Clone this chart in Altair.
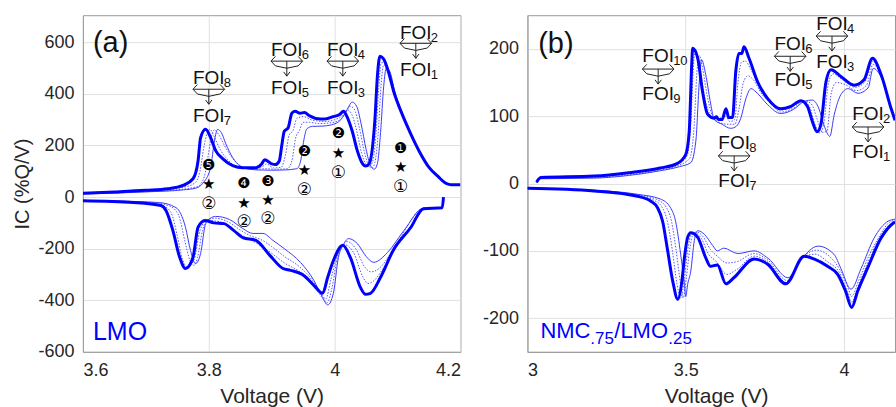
import altair as alt
import pandas as pd

# ---------------- Panel (a): LMO  (voltage, IC) ----------------
a_charge_bold = [(3.600, 15), (3.650, 20), (3.700, 26), (3.735, 32), (3.759, 45), (3.775, 71), (3.783, 141),
                 (3.787, 230), (3.795, 263), (3.803, 230), (3.811, 180), (3.822, 149), (3.838, 122), (3.854, 114),
                 (3.875, 114), (3.884, 128), (3.889, 145), (3.899, 130), (3.906, 126), (3.912, 140), (3.916, 200),
                 (3.920, 255), (3.926, 268), (3.932, 325), (3.937, 333), (3.945, 325), (3.952, 328), (3.960, 315),
                 (3.970, 305), (3.985, 303), (3.998, 312), (4.008, 320), (4.014, 333), (4.020, 310), (4.028, 255),
                 (4.036, 180), (4.043, 135), (4.049, 120), (4.055, 130), (4.060, 190), (4.064, 300), (4.068, 470),
                 (4.072, 546), (4.078, 535), (4.085, 490), (4.095, 400), (4.105, 335), (4.120, 250), (4.135, 175),
                 (4.150, 115), (4.165, 78), (4.178, 52), (4.185, 48), (4.200, 48)]
a_charge_dot1 = [(3.600, 14), (3.700, 23), (3.760, 38), (3.778, 55), (3.786, 100), (3.792, 190), (3.797, 245),
                 (3.802, 262), (3.809, 232), (3.818, 185), (3.830, 145), (3.845, 118), (3.865, 110), (3.885, 118),
                 (3.892, 128), (3.903, 113), (3.915, 115), (3.922, 165), (3.928, 242), (3.934, 258), (3.940, 305),
                 (3.950, 312), (3.965, 298), (3.985, 293), (4.000, 300), (4.012, 315), (4.020, 338), (4.027, 322),
                 (4.035, 258), (4.043, 170), (4.050, 126), (4.055, 118), (4.060, 135), (4.065, 220), (4.070, 420),
                 (4.074, 520), (4.080, 522), (4.088, 470), (4.097, 395), (4.105, 338), (4.120, 251)]
a_charge_dot2 = [(3.600, 13), (3.700, 21), (3.760, 31), (3.783, 42), (3.793, 80), (3.799, 160), (3.804, 232),
                 (3.809, 260), (3.815, 245), (3.825, 200), (3.835, 160), (3.850, 122), (3.870, 107), (3.890, 110),
                 (3.905, 108), (3.925, 110), (3.932, 140), (3.938, 228), (3.944, 258), (3.950, 290), (3.960, 290),
                 (3.975, 285), (3.990, 287), (4.005, 295), (4.016, 320), (4.024, 352), (4.031, 342), (4.039, 272),
                 (4.047, 178), (4.054, 123), (4.059, 112), (4.064, 135), (4.069, 240), (4.074, 440), (4.078, 512),
                 (4.084, 500), (4.092, 440), (4.100, 372), (4.110, 310), (4.120, 251)]
a_charge_thin = [(3.600, 12), (3.700, 20), (3.760, 28), (3.780, 35), (3.790, 52), (3.803, 115), (3.809, 218),
                 (3.814, 262), (3.820, 250), (3.827, 207), (3.838, 153), (3.850, 120), (3.865, 108), (3.880, 105),
                 (3.900, 104), (3.920, 105), (3.940, 110), (3.946, 140), (3.951, 220), (3.956, 265), (3.965, 274),
                 (3.980, 275), (3.995, 280), (4.010, 300), (4.020, 340), (4.028, 368), (4.035, 352), (4.042, 285),
                 (4.050, 185), (4.057, 122), (4.063, 108), (4.068, 130), (4.073, 250), (4.078, 430), (4.082, 500),
                 (4.088, 485), (4.095, 415), (4.105, 342), (4.120, 252)]
a_dis_bold = [(3.600, -14), (3.680, -21), (3.724, -33), (3.732, -52), (3.743, -130), (3.754, -235), (3.763, -277),
              (3.775, -233), (3.783, -117), (3.794, -91), (3.808, -100), (3.824, -103), (3.840, -130), (3.854, -157),
              (3.875, -168), (3.897, -226), (3.918, -277), (3.930, -284), (3.951, -304), (3.967, -342), (3.981, -373),
              (3.989, -311), (3.997, -253), (4.013, -187), (4.025, -234), (4.041, -350), (4.049, -377), (4.057, -373),
              (4.073, -311), (4.093, -207), (4.121, -118), (4.141, -45), (4.171, -41), (4.173, 0)]
a_dis_dot1 = [(3.600, -14), (3.700, -21), (3.728, -35), (3.740, -60), (3.750, -150), (3.758, -240), (3.767, -272),
              (3.777, -240), (3.786, -130), (3.797, -90), (3.808, -92), (3.825, -102), (3.845, -138), (3.862, -160),
              (3.880, -185), (3.900, -218), (3.920, -255), (3.945, -290), (3.965, -335), (3.980, -380), (3.986, -395),
              (3.994, -320), (4.002, -245), (4.016, -185), (4.030, -215), (4.045, -310), (4.053, -335), (4.062, -325),
              (4.080, -265), (4.100, -185), (4.125, -100), (4.145, -45), (4.171, -41)]
a_dis_dot2 = [(3.600, -13), (3.710, -21), (3.738, -35), (3.752, -70), (3.762, -170), (3.770, -245), (3.776, -265),
              (3.782, -235), (3.790, -130), (3.798, -88), (3.810, -82), (3.830, -95), (3.850, -128), (3.866, -150),
              (3.883, -165), (3.900, -192), (3.920, -230), (3.945, -272), (3.965, -325), (3.980, -390), (3.988, -410),
              (3.996, -350), (4.004, -240), (4.019, -172), (4.033, -198), (4.048, -272), (4.058, -290), (4.070, -278),
              (4.090, -215), (4.110, -135), (4.140, -45), (4.171, -41)]
a_dis_thin = [(3.600, -13), (3.720, -21), (3.748, -41), (3.763, -117), (3.771, -207), (3.779, -258), (3.787, -219),
              (3.795, -103), (3.802, -83), (3.811, -75), (3.833, -87), (3.854, -122), (3.870, -141), (3.886, -141),
              (3.902, -168), (3.920, -200), (3.946, -254), (3.967, -323), (3.980, -385), (3.989, -418), (3.998, -373),
              (4.006, -234), (4.014, -185), (4.022, -161), (4.036, -180), (4.050, -230), (4.062, -253), (4.084, -215),
              (4.110, -130), (4.141, -43), (4.171, -41)]

# ---------------- Panel (b): NMC.75/LMO.25 ----------------
b_charge_bold = [(3.029, 2), (3.042, 9), (3.210, 11), (3.320, 16), (3.420, 23), (3.474, 30), (3.500, 43),
                 (3.511, 77), (3.519, 177), (3.522, 201), (3.538, 186), (3.553, 137), (3.569, 103), (3.589, 97),
                 (3.597, 99), (3.604, 95), (3.615, 95), (3.627, 111), (3.636, 98), (3.648, 98), (3.658, 166),
                 (3.668, 193), (3.677, 193), (3.684, 203), (3.700, 186), (3.727, 151), (3.759, 126), (3.800, 111),
                 (3.830, 114), (3.864, 123), (3.885, 114), (3.900, 92), (3.915, 77), (3.927, 88), (3.943, 151),
                 (3.959, 169), (3.990, 159), (4.032, 146), (4.063, 154), (4.090, 186), (4.117, 162), (4.149, 111),
                 (4.161, 94)]
b_charge_dot1 = [(3.030, 2), (3.040, 8), (3.210, 10), (3.320, 15), (3.420, 22), (3.475, 29), (3.505, 42),
                 (3.516, 90), (3.526, 185), (3.531, 196), (3.542, 182), (3.557, 135), (3.575, 104), (3.595, 95),
                 (3.625, 100), (3.640, 92), (3.655, 95), (3.665, 150), (3.676, 180), (3.688, 182), (3.705, 170),
                 (3.730, 146), (3.760, 123), (3.800, 109), (3.840, 115), (3.872, 123), (3.893, 112), (3.908, 88),
                 (3.925, 75), (3.937, 92), (3.951, 150), (3.966, 163), (3.995, 154), (4.035, 143), (4.066, 151),
                 (4.091, 182), (4.117, 161), (4.149, 111), (4.161, 94)]
b_charge_dot2 = [(3.030, 1), (3.040, 8), (3.210, 9), (3.320, 13), (3.420, 20), (3.478, 27), (3.512, 37),
                 (3.525, 75), (3.537, 175), (3.543, 190), (3.553, 172), (3.568, 130), (3.585, 100), (3.605, 91),
                 (3.635, 88), (3.655, 88), (3.668, 110), (3.682, 150), (3.697, 160), (3.712, 155), (3.740, 133),
                 (3.770, 118), (3.800, 106), (3.840, 112), (3.875, 123), (3.897, 118), (3.915, 96), (3.932, 76),
                 (3.946, 78), (3.960, 135), (3.976, 150), (4.003, 147), (4.040, 138), (4.071, 146), (4.092, 177),
                 (4.117, 160), (4.149, 111), (4.161, 94)]
b_charge_thin = [(3.030, 1), (3.040, 7), (3.210, 8), (3.320, 12), (3.420, 19), (3.480, 25), (3.516, 31),
                 (3.532, 63), (3.543, 152), (3.550, 184), (3.563, 162), (3.579, 118), (3.590, 95), (3.615, 88),
                 (3.642, 82), (3.660, 85), (3.674, 97), (3.690, 126), (3.706, 141), (3.722, 136), (3.759, 117),
                 (3.800, 104), (3.840, 110), (3.875, 122), (3.900, 124), (3.920, 112), (3.938, 85), (3.955, 70),
                 (3.969, 102), (3.990, 132), (4.013, 141), (4.044, 134), (4.076, 142), (4.092, 171), (4.117, 158),
                 (4.149, 111), (4.161, 94)]
b_dis_bold = [(3.000, -7), (3.211, -11), (3.348, -19), (3.389, -26), (3.411, -36), (3.427, -56), (3.443, -100),
              (3.459, -145), (3.475, -172), (3.488, -145), (3.496, -110), (3.506, -80), (3.516, -73), (3.538, -80),
              (3.563, -110), (3.578, -123), (3.600, -121), (3.627, -149), (3.652, -140), (3.716, -112), (3.759, -120),
              (3.816, -149), (3.874, -108), (3.905, -112), (3.948, -123), (3.980, -135), (4.005, -160), (4.024, -184),
              (4.043, -160), (4.075, -125), (4.117, -81), (4.155, -59), (4.161, -57)]
b_dis_dot1 = [(3.000, -7), (3.211, -11), (3.348, -18), (3.400, -25), (3.425, -35), (3.442, -56), (3.458, -100),
              (3.472, -148), (3.484, -170), (3.496, -140), (3.506, -100), (3.518, -75), (3.530, -74), (3.550, -82),
              (3.572, -105), (3.595, -115), (3.630, -135), (3.660, -128), (3.716, -108), (3.760, -117), (3.818, -147),
              (3.870, -110), (3.908, -105), (3.950, -117), (3.985, -132), (4.010, -160), (4.024, -176), (4.045, -152),
              (4.075, -118), (4.110, -82), (4.150, -59), (4.161, -56)]
b_dis_dot2 = [(3.000, -7), (3.211, -10), (3.348, -17), (3.410, -24), (3.438, -35), (3.455, -56), (3.470, -100),
              (3.484, -150), (3.492, -170), (3.502, -140), (3.512, -100), (3.524, -74), (3.535, -72), (3.555, -79),
              (3.578, -98), (3.600, -108), (3.630, -118), (3.662, -116), (3.716, -104), (3.760, -114), (3.820, -144),
              (3.866, -112), (3.912, -99), (3.958, -110), (3.988, -129), (4.015, -158), (4.023, -168), (4.048, -142),
              (4.080, -106), (4.110, -80), (4.145, -57), (4.161, -55)]
b_dis_thin = [(3.000, -7), (3.211, -10), (3.348, -16), (3.420, -23), (3.452, -36), (3.468, -56), (3.484, -105),
              (3.496, -150), (3.500, -168), (3.506, -150), (3.516, -130), (3.527, -85), (3.538, -70), (3.560, -76),
              (3.585, -92), (3.600, -100), (3.620, -96), (3.665, -104), (3.716, -100), (3.760, -111), (3.823, -140),
              (3.864, -113), (3.918, -93), (3.968, -105), (3.990, -126), (4.022, -157), (4.054, -126), (4.095, -81),
              (4.139, -56), (4.161, -53)]

# ---------------- axes ----------------
a_x_ticks = [3.6, 3.8, 4, 4.2]
a_y_ticks = [-600, -400, -200, 0, 200, 400, 600]
b_x_ticks = [3, 3.5, 4]
b_y_ticks = [-200, -100, 0, 100, 200]

# ---------------- annotations ----------------
a_foi_v = [3.800, 3.924, 4.013, 4.129]
a_foi_upper_ic = [461, 569, 569, 635]
a_foi_upper_sub = ["8", "6", "4", "2"]
a_foi_arrow_ic = [418, 527, 527, 596]
a_foi_lower_ic = [314, 422, 422, 492]
a_foi_lower_sub = ["7", "5", "3", "1"]

b_foi_v = [3.413, 3.653, 3.830, 3.962, 4.076]
b_foi_upper_ic = [189, 60, 207, 237, 103]
b_foi_upper_sub = ["10", "8", "6", "4", "2"]
b_foi_arrow_ic = [170, 41, 189, 219, 84]
b_foi_lower_ic = [133, 4, 154, 180, 47]
b_foi_lower_sub = ["9", "7", "5", "3", "1"]

a_mark_v = [3.800, 3.856, 3.894, 3.952, 4.006, 4.105]
a_mark_top = ["❺", "❹", "❸", "❷", "❷", "❶"]
a_mark_top_ic = [124, 54, 62, 178, 248, 190]
a_star_ic = [50, -23, -12, 105, 170, 116]
a_mark_bot = ["②", "②", "②", "②", "①", "①"]
a_mark_bot_ic = [-27, -97, -85, 27, 93, 39]

BLUE = "#0000ff"
TXT = "#111111"
FONT = "Liberation Sans"
# double-headed arrow with a downward arrow from its middle (unit-square path)
ARROW_SHAPE = ("M-1,0 L1,0 M-0.72,-0.3 L-1,0 L-0.72,0.3 M0.72,-0.3 L1,0 L0.72,0.3 "
               "M-0.72,0.3 L0,0.45 L0.72,0.3 M0,0 L0,0.95 M-0.2,0.68 L0,0.95 L0.2,0.68")


def curves_df(series):
    rows = []
    for name, style, pts in series:
        for i, (v, ic) in enumerate(pts):
            rows.append({"series": name, "style": style, "idx": i, "v": v, "ic": ic})
    return pd.DataFrame(rows)


def build_panel(series, xdom, ydom, xticks, yticks, width, height, ytitle, xtitle_x,
                letter, letter_pos, foi, extra_layers):
    xsc = alt.Scale(domain=xdom, nice=False, zero=False)
    ysc = alt.Scale(domain=ydom, nice=False, zero=False)
    xax = alt.Axis(values=xticks, labelExpr="'' + datum.value", title="Voltage (V)",
                   titleX=xtitle_x, titleY=51, titleBaseline="alphabetic", labelPadding=10)
    if ytitle:
        yax = alt.Axis(values=yticks, labelExpr="'' + datum.value", title=ytitle, titleX=-60,
                       titleY=height / 2, titleAlign="center", titleBaseline="middle", titleFontSize=20,
                       labelPadding=9)
    else:
        yax = alt.Axis(values=yticks, labelExpr="'' + datum.value", title="", labelPadding=9)
    X = alt.X("v:Q", scale=xsc, axis=xax)
    Y = alt.Y("ic:Q", scale=ysc, axis=yax)

    df = curves_df(series)
    base = alt.Chart(df).encode(x=X, y=Y, detail="series:N", order="idx:Q")
    dots = base.transform_filter(alt.datum.style == "dot").mark_line(
        strokeWidth=1, strokeDash=[1.5, 1.5], color="#5555ff", clip=True, interpolate="monotone")
    thin = base.transform_filter(alt.datum.style == "thin").mark_line(
        strokeWidth=1, color="#3a3aff", clip=True, interpolate="monotone")
    bold = base.transform_filter(alt.datum.style == "bold").mark_line(
        strokeWidth=3, color=BLUE, clip=True, interpolate="monotone")

    layers = [dots, thin, bold]

    lt = pd.DataFrame({"v": [letter_pos[0]], "ic": [letter_pos[1]], "t": [letter]})
    layers.append(alt.Chart(lt).mark_text(font=FONT, fontSize=29, color="#111111", align="center",
                                          baseline="middle").encode(x=X, y=Y, text="t:N"))

    fv, up_ic, up_sub, ar_ic, lo_ic, lo_sub = foi
    main = pd.DataFrame({"v": fv + fv, "ic": up_ic + lo_ic, "t": ["FOI"] * (2 * len(fv))})
    sub = pd.DataFrame({"v": fv + fv, "ic": up_ic + lo_ic, "t": up_sub + lo_sub})
    arr = pd.DataFrame({"v": fv, "ic": ar_ic})
    layers.append(alt.Chart(main).mark_text(font=FONT, fontSize=19, color=TXT, align="center",
                                            baseline="middle").encode(x=X, y=Y, text="t:N"))
    layers.append(alt.Chart(sub).mark_text(font=FONT, fontSize=13, color=TXT, align="left",
                                           baseline="middle", dx=15, dy=5).encode(x=X, y=Y, text="t:N"))
    layers.append(alt.Chart(arr).mark_point(shape=ARROW_SHAPE, size=1000, filled=False, color="#222222",
                                            strokeWidth=1, opacity=1).encode(x=X, y=Y))
    for mk in extra_layers:
        layers.append(mk(X, Y))
    return alt.layer(*layers).properties(width=width, height=height)


# panel a extras
def a_label(X, Y):
    d = pd.DataFrame({"v": [3.616], "ic": [-556], "t": ["LMO"]})
    return alt.Chart(d).mark_text(font=FONT, fontSize=25, color=BLUE, align="left",
                                  baseline="alphabetic").encode(x=X, y=Y, text="t:N")


def a_marks_top(X, Y):
    d = pd.DataFrame({"v": a_mark_v, "ic": a_mark_top_ic, "t": a_mark_top})
    return alt.Chart(d).mark_text(font="DejaVu Sans", fontSize=15, color="#000000", align="center",
                                  baseline="middle").encode(x=X, y=Y, text="t:N")


def a_marks_star(X, Y):
    d = pd.DataFrame({"v": a_mark_v, "ic": a_star_ic, "t": ["★"] * len(a_mark_v)})
    return alt.Chart(d).mark_text(font="DejaVu Sans", fontSize=15, color="#000000", align="center",
                                  baseline="middle").encode(x=X, y=Y, text="t:N")


def a_marks_bot(X, Y):
    d = pd.DataFrame({"v": a_mark_v, "ic": a_mark_bot_ic, "t": a_mark_bot})
    return alt.Chart(d).mark_text(font="DejaVu Sans", fontSize=17, color="#000000", align="center",
                                  baseline="middle").encode(x=X, y=Y, text="t:N")


# panel b label pieces
b_label_v = [3.041, 3.1987, 3.2744, 3.4448]
b_label_ic = [-229, -238, -229, -238]
b_label_t = ["NMC", ".75", "/LMO", ".25"]
b_label_size = [22, 17, 22, 17]


def b_label(X, Y):
    d = pd.DataFrame({"v": b_label_v, "ic": b_label_ic, "t": b_label_t, "s": b_label_size})
    return alt.Chart(d).mark_text(font=FONT, color=BLUE, align="left", baseline="alphabetic").encode(
        x=X, y=Y, text="t:N", size=alt.Size("s:Q", scale=None, legend=None))


panel_a = build_panel(
    [("ac_thin", "thin", a_charge_thin), ("ac_d1", "dot", a_charge_dot1), ("ac_d2", "dot", a_charge_dot2),
     ("ac_bold", "bold", a_charge_bold),
     ("ad_thin", "thin", a_dis_thin), ("ad_d1", "dot", a_dis_dot1), ("ad_d2", "dot", a_dis_dot2),
     ("ad_bold", "bold", a_dis_bold)],
    [3.6, 4.2], [-600, 705], a_x_ticks, a_y_ticks, 378, 337, "IC (%Q/V)", 189,
    "(a)", (3.644, 596),
    (a_foi_v, a_foi_upper_ic, a_foi_upper_sub, a_foi_arrow_ic, a_foi_lower_ic, a_foi_lower_sub),
    [a_label, a_marks_top, a_marks_star, a_marks_bot])

panel_b = build_panel(
    [("bc_thin", "thin", b_charge_thin), ("bc_d1", "dot", b_charge_dot1), ("bc_d2", "dot", b_charge_dot2),
     ("bc_bold", "bold", b_charge_bold),
     ("bd_thin", "thin", b_dis_thin), ("bd_d1", "dot", b_dis_dot1), ("bd_d2", "dot", b_dis_dot2),
     ("bd_bold", "bold", b_dis_bold)],
    [3.0, 4.161], [-250, 250], b_x_ticks, b_y_ticks, 368, 337, None, 189,
    "(b)", (3.09, 207),
    (b_foi_v, b_foi_upper_ic, b_foi_upper_sub, b_foi_arrow_ic, b_foi_lower_ic, b_foi_lower_sub),
    [b_label])

chart = alt.hconcat(panel_a, panel_b, spacing=67, bounds="flush").properties(
    padding={"left": 12, "top": 14, "right": 0, "bottom": 0}
).configure_view(stroke="#9a9a9a", strokeWidth=1).configure_axis(
    labelFont=FONT, labelFontSize=18, labelColor="#262626",
    titleFont=FONT, titleFontSize=21, titleFontWeight="normal", titleColor="#262626",
    grid=True, gridColor="#e0e0e0", gridWidth=1, domainColor="#9a9a9a", ticks=False
)

chart.save("out.html", embed_options={"renderer": "svg", "actions": False})
